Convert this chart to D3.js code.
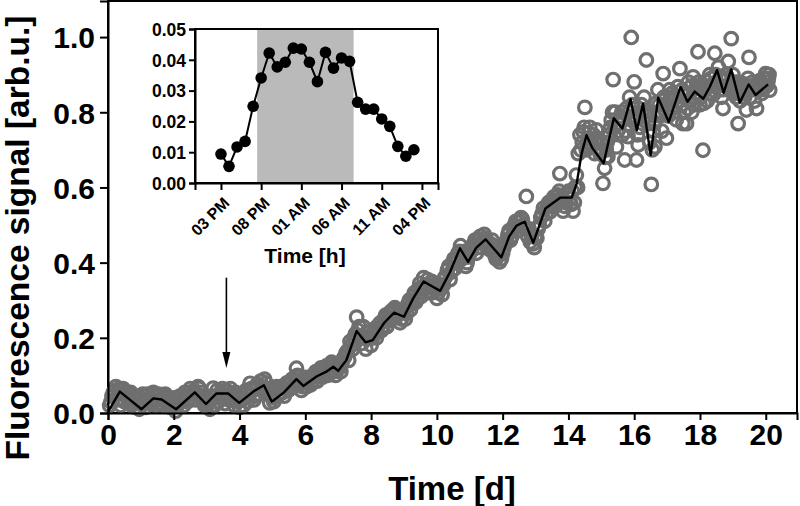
<!DOCTYPE html>
<html><head><meta charset="utf-8">
<script src="https://cdn.jsdelivr.net/npm/d3@7"></script>
<style>
html,body{margin:0;padding:0;background:#fff;}
svg{display:block;font-family:"Liberation Sans",Arial,Helvetica,sans-serif;font-weight:bold;}
</style></head>
<body>
<svg id="chart" width="800" height="506"></svg>
<script>
// ---- main series: moving-average line ----
const lineDays = [0.0,0.36,0.67,1.02,1.38,1.63,2.07,2.64,2.98,3.30,3.65,3.99,4.42,4.74,4.98,5.35,5.73,5.94,6.34,6.64,6.85,7.00,7.25,7.56,7.83,8.05,8.40,8.70,9.00,9.28,9.60,9.85,10.10,10.40,10.70,10.95,11.20,11.48,11.96,12.20,12.42,12.67,12.93,13.30,13.55,13.76,14.10,14.25,14.40,14.55,14.72,15.07,15.38,15.64,15.89,16.08,16.27,16.50,16.73,17.05,17.41,17.62,17.84,18.10,18.30,18.52,18.72,18.95,19.21,19.48,19.69,20.07];
const lineValues = [0.003,0.057,0.035,0.010,0.039,0.036,0.010,0.055,0.024,0.052,0.052,0.027,0.057,0.074,0.030,0.055,0.090,0.072,0.097,0.110,0.123,0.112,0.141,0.218,0.188,0.194,0.240,0.267,0.256,0.305,0.350,0.337,0.325,0.375,0.438,0.402,0.440,0.462,0.414,0.470,0.498,0.509,0.453,0.544,0.560,0.573,0.573,0.610,0.690,0.739,0.706,0.664,0.784,0.757,0.835,0.752,0.823,0.686,0.839,0.774,0.868,0.828,0.855,0.836,0.868,0.912,0.852,0.914,0.826,0.874,0.846,0.874];

// ---- main series: raw measurements (open circles), part A ----
const scatterDays = [0.05,0.12,0.2,0.28,0.35,0.42,0.5,0.58,0.65,0.72,0.8,0.88,0.95,1.02,1.1,1.18,1.26,1.34,1.42,1.5,1.58,1.66,1.74,1.82,1.9,1.98,2.06,2.14,2.22,2.3,2.38,2.46,2.54,2.62,2.7,2.78,2.86,2.94,3.02,3.1,3.2,3.28,3.36,3.44,3.52,3.6,3.68,3.76,3.84,3.92,4.0,4.08,4.16,4.24,4.32,4.4,4.48,4.56,4.64,4.72,4.8,4.88,4.92,5.0,
5.08,5.16,5.24,5.32,5.4,5.48,5.56,5.64,5.73,5.81,5.88,5.96,6.04,6.12,6.2,6.28,6.36,6.44,6.52,6.6,6.68,6.76,6.84,6.92,7.0,7.08,7.16,7.24,7.32,7.4,7.48,7.56,7.6,7.68,7.76,7.84,7.92,8.0,
8.08,8.16,8.24,8.32,8.4,8.48,8.56,8.64,8.72,8.8,8.88,8.96,9.04,9.12,9.2,9.28,9.36,9.44,9.52,9.6,9.68,9.76,9.84,9.92,10.0,10.08,10.16,10.24,10.32,10.4,10.48,10.56,10.64,10.72,10.8,10.88,10.96,11.04,11.12,11.2,11.28,11.36,11.44,11.52,11.6,11.68,11.76,11.84,11.91,12.0,
12.08,12.16,12.24,12.32,12.4,12.48,12.56,12.64,12.72,12.8,12.88,12.96,13.04,13.12,13.2,13.28,13.36,13.44,13.52,13.6,13.68,13.74,13.84,13.92,14.0,14.08,14.14,14.2,14.24,14.3,
14.38,14.45,14.5,14.58,14.65,14.72,14.8,14.85,14.92,15.0,15.05,15.1,15.15,15.2,15.25,15.3,15.36,15.42,15.46,15.52,15.58,15.64,15.71,15.76,15.81,15.86,15.91,15.96,16.0,16.04,16.07,16.12,16.18,16.24,16.3,16.37,16.42,16.47,16.52,16.58,16.63,16.67,16.72,16.78,16.84,16.88,16.93,16.98,17.04,17.1,17.16,17.23,17.28,17.33,17.39,17.44,17.48,17.54,17.59,17.65,17.7,17.75,17.79,17.84,17.9,17.94,18.0,18.05,18.09,18.12,18.19,18.25,18.3,18.36,18.4,18.45,18.5,18.56,18.62,18.7,18.75,18.8,18.86,18.95,19.0,19.06,19.12,19.16,19.22,19.28,19.31,19.36,19.41,19.46,19.49,19.55,19.6,19.66,19.72,19.77,19.82,19.88,19.93,19.97,20.0,20.06,20.12,20.1];
const scatterValues = [0.02,0.045,0.06,0.035,0.065,0.05,0.03,0.055,0.04,0.02,0.045,0.03,0.01,0.025,0.045,0.03,0.04,0.05,0.035,0.045,0.025,0.04,0.05,0.03,0.015,0.03,0.005,0.025,0.035,0.02,0.045,0.055,0.04,0.06,0.05,0.065,0.04,0.02,0.035,0.01,0.066,0.045,0.03,0.055,0.04,0.06,0.035,0.05,0.02,0.04,0.015,0.035,0.05,0.03,0.079,0.06,0.045,0.07,0.085,0.06,0.08,0.05,0.027,0.04,
0.06,0.045,0.07,0.055,0.075,0.06,0.085,0.07,0.119,0.095,0.06,0.08,0.07,0.095,0.08,0.1,0.085,0.11,0.095,0.12,0.1,0.13,0.115,0.1,0.125,0.11,0.145,0.16,0.14,0.18,0.2,0.255,0.22,0.2,0.23,0.17,0.2,0.18,
0.215,0.2,0.235,0.22,0.25,0.23,0.265,0.25,0.28,0.26,0.24,0.27,0.25,0.29,0.275,0.31,0.295,0.33,0.31,0.36,0.34,0.32,0.35,0.33,0.305,0.34,0.315,0.36,0.38,0.355,0.4,0.385,0.425,0.445,0.42,0.39,0.415,0.43,0.45,0.425,0.46,0.44,0.475,0.45,0.435,0.46,0.42,0.44,0.402,0.425,
0.45,0.475,0.46,0.49,0.51,0.485,0.52,0.5,0.576,0.49,0.47,0.44,0.465,0.5,0.53,0.51,0.55,0.535,0.565,0.55,0.58,0.637,0.537,0.56,0.59,0.555,0.537,0.6,0.633,0.69,
0.7,0.748,0.813,0.72,0.76,0.73,0.69,0.753,0.7,0.72,0.611,0.651,0.7,0.682,0.74,0.779,0.887,0.8,0.708,0.77,0.79,0.74,0.673,0.81,0.735,0.84,0.999,0.79,0.881,0.788,0.673,0.713,0.76,0.8,0.84,0.939,0.77,0.72,0.608,0.75,0.708,0.824,0.86,0.79,0.75,0.903,0.82,0.731,0.79,0.84,0.81,0.837,0.78,0.868,0.916,0.82,0.77,0.85,0.77,0.88,0.83,0.8,0.894,0.84,0.87,0.961,0.82,0.86,0.699,0.824,0.881,0.85,0.9,0.87,0.846,0.957,0.88,0.92,0.86,0.81,0.89,0.87,0.935,0.996,0.9,0.85,0.88,0.77,0.83,0.86,0.876,0.84,0.806,0.89,0.946,0.86,0.88,0.83,0.81,0.86,0.884,0.85,0.87,0.868,0.903,0.88,0.859,0.9];

// ---- raw measurements, part B (interleaved readings) ----
const scatterDaysB = [0.09,0.16,0.24,0.31,0.39,0.46,0.54,0.62,0.69,0.76,0.84,0.91,0.99,1.06,1.14,1.22,1.3,1.38,1.46,1.54,1.62,1.7,1.78,1.86,1.94,2.02,2.1,2.18,2.26,2.34,2.42,2.5,2.58,2.66,2.74,2.82,2.9,2.98,3.06,3.14,3.24,3.32,3.4,3.48,3.56,3.64,3.72,3.8,3.88,3.96,4.04,4.12,4.2,4.28,4.36,4.44,4.52,4.6,4.68,4.76,4.84,4.96,
5.04,5.12,5.2,5.28,5.36,5.44,5.52,5.6,5.68,5.76,5.85,5.92,6.0,6.08,6.16,6.24,6.32,6.4,6.48,6.56,6.64,6.72,6.8,6.88,6.96,7.04,7.12,7.2,7.28,7.36,7.44,7.52,7.64,7.72,7.8,7.88,7.96,
8.04,8.12,8.2,8.28,8.36,8.44,8.52,8.6,8.68,8.76,8.84,8.92,9.0,9.08,9.16,9.24,9.32,9.4,9.48,9.56,9.64,9.72,9.8,9.88,9.96,10.04,10.12,10.2,10.28,10.36,10.44,10.52,10.6,10.68,10.76,10.84,10.92,11.0,11.08,11.16,11.24,11.32,11.4,11.48,11.56,11.64,11.72,11.8,11.88,11.96,
12.04,12.12,12.2,12.28,12.36,12.44,12.52,12.6,12.68,12.76,12.84,12.92,13.0,13.08,13.16,13.24,13.32,13.4,13.48,13.56,13.64,13.72,13.8,13.88,13.96,14.04,14.12,14.18,14.28,
14.35,14.42,14.48,14.54,14.62,14.68,14.76,14.82,14.9,14.96,15.03,15.12,15.18,15.28,15.34,15.4,15.5,15.56,15.62,15.68,15.74,15.84,15.94,16.02,16.1,16.16,16.22,16.28,16.34,16.44,16.55,16.62,16.7,16.76,16.82,16.9,16.96,17.02,17.08,17.14,17.2,17.26,17.36,17.46,17.52,17.62,17.68,17.74,17.82,17.88,17.96,18.02,18.08,18.16,18.22,18.28,18.34,18.42,18.48,18.54,18.6,18.66,18.72,18.78,18.84,18.9,18.98,19.04,19.1,19.18,19.24,19.3,19.38,19.44,19.52,19.58,19.64,19.7,19.76,19.84,19.9,19.95,20.03,20.08];
const scatterValuesB = [0.03,0.055,0.07,0.05,0.02,0.065,0.045,0.025,0.055,0.035,0.015,0.04,0.03,0.05,0.015,0.05,0.025,0.055,0.02,0.05,0.035,0.02,0.045,0.04,0.02,0.04,0.02,0.045,0.03,0.055,0.03,0.065,0.05,0.035,0.07,0.055,0.03,0.045,0.025,0.045,0.02,0.06,0.04,0.065,0.025,0.05,0.065,0.035,0.055,0.03,0.05,0.02,0.06,0.045,0.065,0.035,0.075,0.05,0.07,0.09,0.065,0.05,
0.03,0.07,0.05,0.065,0.045,0.08,0.065,0.09,0.075,0.1,0.085,0.07,0.095,0.085,0.075,0.1,0.11,0.1,0.12,0.105,0.125,0.115,0.135,0.11,0.13,0.12,0.135,0.15,0.165,0.19,0.17,0.21,0.23,0.185,0.2,0.215,0.2,
0.2,0.225,0.215,0.24,0.23,0.26,0.245,0.27,0.275,0.255,0.27,0.25,0.275,0.265,0.3,0.29,0.32,0.305,0.345,0.335,0.33,0.355,0.34,0.32,0.335,0.32,0.33,0.34,0.365,0.39,0.375,0.41,0.4,0.43,0.41,0.43,0.4,0.425,0.44,0.46,0.44,0.47,0.455,0.465,0.44,0.45,0.43,0.41,0.42,0.41,
0.44,0.46,0.485,0.47,0.5,0.495,0.51,0.515,0.49,0.47,0.455,0.45,0.47,0.49,0.52,0.545,0.53,0.56,0.55,0.575,0.565,0.59,0.575,0.55,0.58,0.57,0.59,0.56,0.6,
0.74,0.72,0.76,0.7,0.745,0.715,0.74,0.72,0.73,0.69,0.7,0.68,0.72,0.76,0.8,0.76,0.75,0.77,0.8,0.78,0.75,0.8,0.82,0.78,0.74,0.79,0.82,0.78,0.8,0.79,0.7,0.77,0.8,0.82,0.8,0.84,0.8,0.82,0.86,0.85,0.8,0.82,0.83,0.86,0.8,0.81,0.85,0.87,0.82,0.85,0.88,0.84,0.87,0.86,0.83,0.87,0.89,0.87,0.9,0.87,0.89,0.84,0.86,0.9,0.89,0.86,0.88,0.87,0.84,0.85,0.87,0.85,0.87,0.86,0.84,0.87,0.86,0.87,0.88,0.87,0.86,0.89,0.87,0.89];

const xTicks = [0,2,4,6,8,10,12,14,16,18,20];
const yTicks = [0.0,0.2,0.4,0.6,0.8,1.0];
const arrowDay = 3.6, arrowFrom = 0.36, arrowTo = 0.12;

// ---- inset: hourly values ----
const insetHours = [0,1,2,3,4,5,6,7,8,9,10,11,12,13,14,15,16,17,18,19,20,21,22,23,24];
const insetValues = [0.0094,0.0054,0.0117,0.0135,0.0249,0.0341,0.0422,0.0377,0.0392,0.0438,0.0435,0.0392,0.0329,0.0424,0.0373,0.0406,0.0395,0.0262,0.0240,0.0240,0.0208,0.0184,0.0119,0.0087,0.0108];
const insetTickHours = [0,5,10,15,20,25];
const insetTickLabels = ["03 PM","08 PM","01 AM","06 AM","11 AM","04 PM"];
const insetYTicks = [0.00,0.01,0.02,0.03,0.04,0.05];
const darkPeriod = [4.5, 16.5];

const svg = d3.select("#chart");

// main scales
const x = d3.scaleLinear().domain([0, 20.95]).range([108, 797]);
const y = d3.scaleLinear().domain([0, 1.096]).range([413, 1]);

// frame
svg.append("rect").attr("x",108).attr("y",1).attr("width",689).attr("height",412)
  .attr("fill","none").attr("stroke","#000").attr("stroke-width",2);

// scatter circles
const pts = scatterDays.map((d,i)=>[d,scatterValues[i]]).concat(scatterDaysB.map((d,i)=>[d,scatterValuesB[i]]));
svg.append("g").selectAll("circle").data(pts)
  .join("circle").attr("cx",d=>x(d[0])).attr("cy",d=>y(d[1])).attr("r",6.3)
  .attr("fill","none").attr("stroke","#6f6f6f").attr("stroke-width",3.2);

// line
svg.append("path").datum(lineDays.map((d,i)=>[d,lineValues[i]]))
  .attr("d", d3.line().x(d=>x(d[0])).y(d=>y(d[1])))
  .attr("fill","none").attr("stroke","#000").attr("stroke-width",2.4).attr("stroke-linejoin","round");

// axes
const xAxis = svg.append("g").attr("transform","translate(0,413)")
  .call(d3.axisBottom(x).tickValues(xTicks).tickFormat(d3.format("d")).tickSizeOuter(0).tickSize(7).tickPadding(4));
const yAxis = svg.append("g").attr("transform","translate(108,0)")
  .call(d3.axisLeft(y).tickValues(yTicks).tickFormat(d3.format(".1f")).tickSizeOuter(0).tickSize(8).tickPadding(5));
[xAxis,yAxis].forEach(a=>{
  a.select(".domain").attr("stroke-width",2);
  a.selectAll(".tick line").attr("stroke-width",2);
  a.selectAll(".tick text").attr("font-family","Liberation Sans, Arial, sans-serif").attr("font-weight","bold").attr("font-size",30).attr("fill","#000");
});
yAxis.selectAll(".tick text").attr("dy","0.36em");

svg.append("text").attr("x",452).attr("y",500).attr("text-anchor","middle")
  .attr("font-size",33).text("Time [d]");
svg.append("text").attr("transform","translate(28.5,238) rotate(-90)").attr("text-anchor","middle")
  .attr("font-size",33.5).text("Fluorescence signal [arb.u.]");

// arrow
const ax = x(arrowDay);
svg.append("line").attr("x1",ax).attr("x2",ax).attr("y1",y(arrowFrom)).attr("y2",y(arrowTo)-12)
  .attr("stroke","#000").attr("stroke-width",1.6);
svg.append("path").attr("d",`M${ax-4},${y(arrowTo)-16} L${ax+4},${y(arrowTo)-16} L${ax},${y(arrowTo)} Z`).attr("fill","#000");

// ---- inset ----
const xi = d3.scaleLinear().domain([-3.23, 27.0]).range([195, 438]);
const yi = d3.scaleLinear().domain([0, 0.05]).range([183, 29]);
const inset = svg.append("g");
inset.append("rect").attr("x",195).attr("y",29).attr("width",243).attr("height",154).attr("fill","#fff");
inset.append("rect").attr("x",xi(darkPeriod[0])).attr("y",29).attr("width",xi(darkPeriod[1])-xi(darkPeriod[0])).attr("height",154).attr("fill","#bababa");
inset.append("rect").attr("x",195).attr("y",29).attr("width",243).attr("height",154)
  .attr("fill","none").attr("stroke","#000").attr("stroke-width",2);
const ixAxis = inset.append("g").attr("transform","translate(0,183)")
  .call(d3.axisBottom(xi).tickValues(insetTickHours).tickFormat((d,i)=>insetTickLabels[i]).tickSizeOuter(0).tickSize(7));
const iyAxis = inset.append("g").attr("transform","translate(195,0)")
  .call(d3.axisLeft(yi).tickValues(insetYTicks).tickFormat(d3.format(".2f")).tickSizeOuter(0).tickSize(6).tickPadding(3));
[ixAxis,iyAxis].forEach(a=>{
  a.select(".domain").attr("stroke-width",2);
  a.selectAll(".tick line").attr("stroke-width",2);
  a.selectAll(".tick text").attr("font-family","Liberation Sans, Arial, sans-serif").attr("font-weight","bold").attr("fill","#000");
});
iyAxis.selectAll(".tick text").attr("font-size",17.5).attr("dy","0.36em");
ixAxis.selectAll(".tick text").attr("font-size",16).attr("text-anchor","end")
  .attr("dy","0.35em").attr("transform","translate(5,17) rotate(-45)").attr("y",0).attr("x",0);

inset.append("path").datum(insetHours.map((h,i)=>[h,insetValues[i]]))
  .attr("d", d3.line().x(d=>xi(d[0])).y(d=>yi(d[1])))
  .attr("fill","none").attr("stroke","#000").attr("stroke-width",2);
inset.append("g").selectAll("circle").data(insetHours.map((h,i)=>[h,insetValues[i]]))
  .join("circle").attr("cx",d=>xi(d[0])).attr("cy",d=>yi(d[1])).attr("r",5.8).attr("fill","#000");
inset.append("text").attr("x",305).attr("y",263).attr("text-anchor","middle").attr("font-size",21).text("Time [h]");
</script>
</body></html>
